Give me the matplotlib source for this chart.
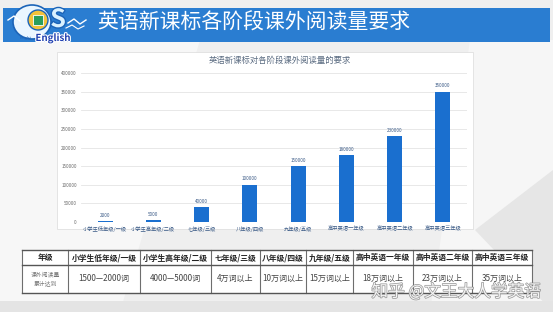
import matplotlib
matplotlib.use("Agg")
import matplotlib.pyplot as plt
from matplotlib.patches import Rectangle, Polygon, Ellipse, Circle
import matplotlib.patheffects as pe

plt.rcParams['font.family'] = ['Noto Sans CJK SC', 'DejaVu Sans']

# ---------------- data ----------------
categories = ['小学生低年级/一级', '小学生高年级/二级', '七年级/三级', '八年级/四级',
              '九年级/五级', '高中英语一年级', '高中英语二年级', '高中英语三年级']
values = [2000, 5000, 40000, 100000, 150000, 180000, 230000, 350000]
y_ticks = [0, 50000, 100000, 150000, 200000, 250000, 300000, 350000, 400000]
table_header = ['年级'] + ['小学生低年级/一级', '小学生高年级/二级', '七年级/三级', '八年级/四级',
                           '九年级/五级', '高中英语一年级', '高中英语二年级', '高中英语三年级']
table_row_label = '课外阅读量\n累计达到'
table_values = ['1500—2000词', '4000—5000词', '4万词以上', '10万词以上', '15万词以上',
                '18万词以上', '23万词以上', '35万词以上']
slide_title = '英语新课标各阶段课外阅读量要求'
chart_title = '英语新课标对各阶段课外阅读量的要求'
watermark = '知乎 @文王大人学英语'

W, H = 553, 312
fig = plt.figure(figsize=(W / 100, H / 100), dpi=100)
fig.patch.set_facecolor('#efefef')

# background overlay in pixel coordinates
bg = fig.add_axes([0, 0, 1, 1])
bg.set_xlim(0, W)
bg.set_ylim(H, 0)
bg.axis('off')
bg.set_zorder(0)

# subtle slide shapes
bg.add_patch(Polygon([[0, 40], [200, 40], [120, 312], [0, 312]], closed=True,
                     facecolor='#f7f7f7', edgecolor='none'))
bg.add_patch(Polygon([[470, 40], [553, 40], [553, 312], [430, 312]], closed=True,
                     facecolor='#f6f6f6', edgecolor='none'))
bg.add_patch(Polygon([[475, 230], [553, 170], [553, 312]], closed=True,
                     facecolor='#e6e6e6', edgecolor='none'))
bg.add_patch(Rectangle((0, 301), W, 11, facecolor='#e4e4e4', edgecolor='none'))

# banner
bg.add_patch(Rectangle((3, 8), 547, 34, facecolor='#2a7dd1', edgecolor='none'))
bg.text(97, 23, slide_title, color='white', fontsize=15, va='center', ha='left')

# logo (approximation)
bg.plot([8, 14, 20], [20, 16, 21], color='white', lw=1)
bg.add_patch(Ellipse((32, 22), 38, 34, facecolor='#eaf6ff', edgecolor='#1c64b8', lw=1.2))
bg.add_patch(Circle((38, 20), 10, facecolor='#f3c23b', edgecolor='#1c64b8', lw=1.0))
bg.add_patch(Rectangle((33, 15), 10, 10, facecolor='#2a9d5c', edgecolor='white', lw=0.6))
bg.text(58, 20, 'S', color='#d9f1ff', fontsize=18, fontweight='bold', ha='center', va='center',
        path_effects=[pe.withStroke(linewidth=2, foreground='#1c64b8')])
bg.plot([68, 74, 80, 86], [23, 19, 24, 20], color='white', lw=1)
bg.plot([66, 72, 78, 84], [28, 25, 29, 26], color='white', lw=0.8)
bg.text(26, 38, 'Bright', color='#1c64b8', fontsize=3, ha='center', va='center')
bg.text(53, 38, 'English', color='#1f3fb0', fontsize=7, fontweight='bold', style='italic',
        ha='center', va='center',
        path_effects=[pe.withStroke(linewidth=1.6, foreground='white')])

# chart panel
bg.add_patch(Rectangle((57, 52), 416, 177, facecolor='white', edgecolor='#e0e0e0', lw=0.6))
bg.text(280, 60, chart_title, color='#596a80', fontsize=6, ha='center', va='center')

# chart axes
ax = fig.add_axes([81 / W, 1 - 222 / H, 386 / W, (222 - 73) / H])
ax.set_zorder(2)
ax.patch.set_alpha(0)
x = list(range(len(categories)))
bars = ax.bar(x, values, width=0.31, color='#1a6fcf', zorder=3)
for xi, v in zip(x, values):
    ax.text(xi, v + 9000, str(v), ha='center', va='bottom', fontsize=3.3, color='#3a5a86')
ax.set_xlim(-0.5, len(categories) - 0.5)
ax.set_ylim(0, 400000)
ax.set_yticks(y_ticks)
ax.set_yticklabels([str(t) for t in y_ticks], fontsize=3.3, color='#6a6a6a')
ax.set_xticks(x)
ax.set_xticklabels(categories, fontsize=3.8, color='#3a5a86')
ax.tick_params(length=0, pad=3)
ax.grid(axis='y', color='#e4e4e4', lw=0.6, zorder=0)
for s in ax.spines.values():
    s.set_visible(False)
ax.axhline(0, color='#d0d0d0', lw=0.6, zorder=1)

# table
col_edges = [22, 68, 140, 211, 260, 306, 353, 413, 472, 532]
row_edges = [250, 265, 293]
bg.add_patch(Rectangle((22, 250), 510, 43, facecolor='white', edgecolor='none', zorder=1))
for xe in col_edges:
    bg.plot([xe, xe], [row_edges[0], row_edges[-1]], color='#6e6e6e', lw=0.8, zorder=2)
for ye in row_edges:
    bg.plot([22, 532], [ye, ye], color='#555555', lw=1.0, zorder=2)
for i, h in enumerate(table_header):
    cx = (col_edges[i] + col_edges[i + 1]) / 2
    bg.text(cx, 257.5, h, ha='center', va='center', fontsize=5.6, fontweight='bold',
            color='#222222', zorder=3)
bg.text(45, 279, table_row_label, ha='center', va='center', fontsize=4.2, color='#777777',
        linespacing=1.5, zorder=3)
for i, v in enumerate(table_values):
    cx = (col_edges[i + 1] + col_edges[i + 2]) / 2
    bg.text(cx, 278, v, ha='center', va='center', fontsize=5.8, color='#444444', zorder=3)

# watermark
bg.text(456, 292, watermark, ha='center', va='center', fontsize=12, color='white', alpha=0.9,
        zorder=4, path_effects=[pe.withStroke(linewidth=1.0, foreground='#8a8a8a')])

fig.savefig('out.png', dpi=100, facecolor=fig.get_facecolor())
